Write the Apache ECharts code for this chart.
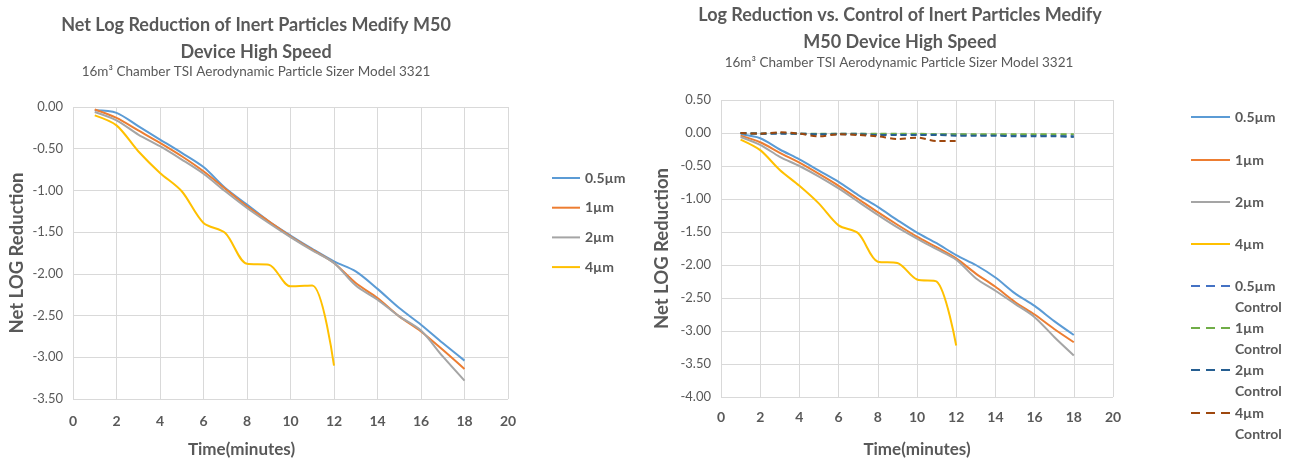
<!DOCTYPE html>
<html>
<head>
<meta charset="utf-8">
<script src="https://cdn.jsdelivr.net/npm/echarts@6/dist/echarts.min.js"></script>
<style>
	html, body {margin: 0; padding: 0; background: #fff;}
	#main {width: 1296px; height: 459px;}
</style>
</head>
<body>
<div id="main"></div>
<script>
	// time points (minutes)
	var time = [1, 2, 3, 4, 5, 6, 7, 8, 9, 10, 11, 12, 13, 14, 15, 16, 17, 18];

	// left chart: net log reduction
	var net05 = [-0.04, -0.07, -0.23, -0.39, -0.55, -0.72, -0.97, -1.17, -1.37, -1.54, -1.70, -1.85, -1.97, -2.18, -2.41, -2.61, -2.83, -3.04];
	var net1 = [-0.03, -0.13, -0.28, -0.43, -0.59, -0.77, -0.98, -1.19, -1.37, -1.55, -1.71, -1.87, -2.11, -2.29, -2.51, -2.69, -2.91, -3.14];
	var net2 = [-0.06, -0.16, -0.33, -0.47, -0.63, -0.80, -1.01, -1.21, -1.39, -1.56, -1.72, -1.87, -2.14, -2.31, -2.51, -2.68, -2.99, -3.28];
	var net4 = [-0.10, -0.22, -0.53, -0.79, -1.01, -1.39, -1.51, -1.88, -1.89, -2.15, -2.14, -3.10];

	// right chart: log reduction vs control
	var dev05 = [-0.02, -0.08, -0.25, -0.40, -0.57, -0.74, -0.94, -1.12, -1.32, -1.51, -1.67, -1.85, -2.00, -2.19, -2.43, -2.62, -2.85, -3.06];
	var dev1 = [-0.04, -0.14, -0.30, -0.45, -0.62, -0.80, -1.00, -1.20, -1.39, -1.57, -1.73, -1.90, -2.13, -2.33, -2.56, -2.75, -2.97, -3.17];
	var dev2 = [-0.06, -0.18, -0.36, -0.50, -0.66, -0.84, -1.04, -1.24, -1.43, -1.60, -1.76, -1.92, -2.20, -2.39, -2.59, -2.79, -3.09, -3.37];
	var dev4 = [-0.10, -0.26, -0.56, -0.80, -1.07, -1.40, -1.52, -1.95, -1.97, -2.22, -2.25, -3.22];
	var ctrl05 = [0, -0.01, 0, -0.01, -0.02, -0.01, -0.01, -0.02, -0.02, -0.02, -0.02, -0.02, -0.03, -0.03, -0.03, -0.03, -0.04, -0.04];
	var ctrl1 = [0, -0.01, 0, -0.01, -0.01, -0.01, -0.01, -0.01, -0.01, -0.01, -0.02, -0.02, -0.02, -0.02, -0.02, -0.02, -0.02, -0.02];
	var ctrl2 = [0, -0.01, -0.01, -0.01, -0.02, -0.02, -0.02, -0.03, -0.03, -0.03, -0.03, -0.04, -0.04, -0.04, -0.05, -0.05, -0.05, -0.06];
	var ctrl4 = [0, -0.01, 0.01, -0.01, -0.05, -0.02, -0.03, -0.05, -0.09, -0.07, -0.12, -0.12];

	var sizeNames = ['0.5µm', '1µm', '2µm', '4µm'];
	var ctrlNames = ['0.5µm Control', '1µm Control', '2µm Control', '4µm Control'];

	function pairs(vals) {
		return vals.map(function(v, i) { return [time[i], v]; });
	}

	var grey = '#595959';
	var font = 'Lato';
	var sizeColors = ['#5b9bd5', '#ed7d31', '#a5a5a5', '#ffc000'];
	var ctrlColors = ['#4472c4', '#70ad47', '#255e91', '#9e480e'];
	var dashIcon = 'path://M0,0h9v2h-9z M15,0h9v2h-9z M30,0h9v2h-9z';

	function xAxis(idx, labelMargin, gap, shift) {
		return {
			type: 'value', gridIndex: idx, min: 0, max: 20, interval: 2,
			name: 'Time(minutes)', nameLocation: 'middle', nameGap: gap,
			nameTextStyle: {color: grey, fontFamily: font, fontWeight: 'bold', fontSize: 17,
				padding: shift > 0 ? [0, shift, 0, 0] : 0},
			axisLine: {show: false}, axisTick: {show: false},
			axisLabel: {color: grey, fontFamily: font, fontWeight: 'bold', fontSize: 14, margin: labelMargin},
			splitLine: {lineStyle: {color: '#d9d9d9'}}
		};
	}
	function yAxis(idx, min, max, gap) {
		return {
			type: 'value', gridIndex: idx, min: min, max: max, interval: 0.5,
			name: 'Net LOG Reduction', nameLocation: 'middle', nameGap: gap,
			nameTextStyle: {color: grey, fontFamily: font, fontWeight: 'bold', fontSize: 18.5},
			axisLine: {show: false}, axisTick: {show: false},
			axisLabel: {color: grey, fontFamily: font, fontSize: 13, margin: 10,
				formatter: function(v) { return v.toFixed(2); }},
			splitLine: {lineStyle: {color: '#d9d9d9'}}
		};
	}

	var series = [];
	var leftVals = [net05, net1, net2, net4];
	var rightVals = [dev05, dev1, dev2, dev4];
	var ctrlVals = [ctrl05, ctrl1, ctrl2, ctrl4];
	for (var i = 0; i < 4; i++) {
		series.push({name: sizeNames[i], type: 'line', xAxisIndex: 0, yAxisIndex: 0, smooth: 0.3,
			symbol: 'none', data: pairs(leftVals[i]),
			lineStyle: {color: sizeColors[i], width: 2}, itemStyle: {color: sizeColors[i]}});
	}
	for (var i = 0; i < 4; i++) {
		series.push({name: sizeNames[i], type: 'line', xAxisIndex: 1, yAxisIndex: 1, smooth: 0.3,
			symbol: 'none', data: pairs(rightVals[i]),
			lineStyle: {color: sizeColors[i], width: 2}, itemStyle: {color: sizeColors[i]}});
	}
	for (var i = 0; i < 4; i++) {
		series.push({name: ctrlNames[i], type: 'line', xAxisIndex: 1, yAxisIndex: 1, smooth: 0.3,
			symbol: 'none', data: pairs(ctrlVals[i]),
			lineStyle: {color: ctrlColors[i], width: 2, type: [6, 4]}, itemStyle: {color: ctrlColors[i]}});
	}

	var legendText = {color: grey, fontFamily: font, fontWeight: 'bold', fontSize: 14, lineHeight: 21};
	var legends = [{
		orient: 'vertical', left: 552, top: 167.5, padding: 0, itemWidth: 28, itemHeight: 2, itemGap: 8.7,
		icon: 'rect', textStyle: legendText, data: sizeNames
	}];
	var rightTops = [117, 160, 202, 244, 286, 328, 370, 413];
	var rightNames = sizeNames.concat(ctrlNames);
	for (var k = 0; k < 8; k++) {
		var isCtrl = k >= 4;
		legends.push({
			left: 1191, top: rightTops[k] - (isCtrl ? 31.5 : 10.5), padding: 0, itemWidth: 39, itemHeight: 2, itemGap: 5,
			icon: isCtrl ? dashIcon : 'rect',
			textStyle: legendText,
			// blank first line keeps the icon level with the size label
			formatter: function(n) { return n.indexOf(' Control') > 0 ? ' \n' + n.replace(' Control', '\nControl') : n; },
			data: [rightNames[k]]
		});
	}

	var titleStyle = {color: grey, fontFamily: font, fontWeight: 'bold', fontSize: 18, lineHeight: 27};
	var subStyle = {color: grey, fontFamily: font, fontWeight: 'normal', fontSize: 13.5, lineHeight: 16};

	var myChart = echarts.init(document.getElementById('main'));
	var option = {
		backgroundColor: '#fff',
		animation: false,
		title: [
			{text: 'Net Log Reduction of Inert Particles Medify M50\nDevice High Speed', left: 256, top: 12, padding: 0,
				textAlign: 'center', textStyle: titleStyle},
			{text: '16m³ Chamber TSI Aerodynamic Particle Sizer Model 3321', left: 256, top: 64, padding: 0,
				textAlign: 'center', textStyle: subStyle},
			{text: 'Log Reduction vs. Control of Inert Particles Medify\nM50 Device High Speed', left: 900, top: 2, padding: 0,
				textAlign: 'center', textStyle: titleStyle},
			{text: '16m³ Chamber TSI Aerodynamic Particle Sizer Model 3321', left: 899, top: 54.5, padding: 0,
				textAlign: 'center', textStyle: subStyle}
		],
		legend: legends,
		grid: [
			{left: 73, top: 107, width: 435, height: 292, outerBoundsMode: 'none'},
			{left: 721, top: 100, width: 392, height: 297, outerBoundsMode: 'none'}
		],
		xAxis: [xAxis(0, 15, 42, 98), xAxis(1, 13, 44, 0)],
		yAxis: [yAxis(0, -3.5, 0, 46), yAxis(1, -4, 0.5, 49.5)],
		series: series
	};
	myChart.setOption(option);
</script>
</body>
</html>
